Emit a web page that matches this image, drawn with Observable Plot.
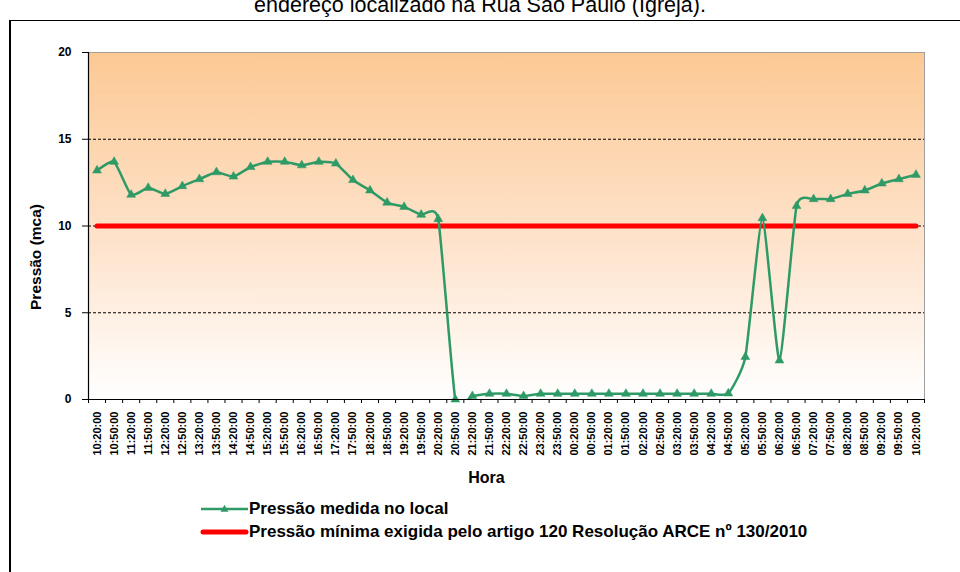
<!DOCTYPE html>
<html>
<head>
<meta charset="utf-8">
<script src="https://cdn.jsdelivr.net/npm/d3@7"></script>
<script src="https://cdn.jsdelivr.net/npm/@observablehq/plot@0.6"></script>
<style>
  html, body { margin: 0; padding: 0; background: #fff; }
  #wrap { position: relative; width: 960px; height: 572px; overflow: hidden; font-family: "Liberation Sans", Arial, sans-serif; }
  #title { position: absolute; left: 0; width: 960px; top: -5px; text-align: center; font-size: 21.5px; line-height: 21.5px; color: #000; white-space: nowrap; }
  #box { position: absolute; left: 9px; top: 20px; width: 1100px; height: 800px; border-left: 2px solid #000; border-top: 1.5px solid #000; }
  #chart { position: absolute; left: 0; top: 0; }
  #legend { position: absolute; left: 200px; top: 497px; font-weight: bold; font-size: 17px; color: #000; }
  .row { display: flex; align-items: center; height: 23px; white-space: nowrap; }
  .row svg { flex: none; }
</style>
</head>
<body>
<div id="wrap">
  <div id="title">endereço localizado na Rua São Paulo (Igreja).</div>
  <div id="box"></div>
  <div id="chart"></div>
  <div id="legend"></div>
</div>
<script>
const times = [
  "10:20:00","10:50:00","11:20:00","11:50:00","12:20:00","12:50:00","13:20:00","13:50:00",
  "14:20:00","14:50:00","15:20:00","15:50:00","16:20:00","16:50:00","17:20:00","17:50:00",
  "18:20:00","18:50:00","19:20:00","19:50:00","20:20:00","20:50:00","21:20:00","21:50:00",
  "22:20:00","22:50:00","23:20:00","23:50:00","00:20:00","00:50:00","01:20:00","01:50:00",
  "02:20:00","02:50:00","03:20:00","03:50:00","04:20:00","04:50:00","05:20:00","05:50:00",
  "06:20:00","06:50:00","07:20:00","07:50:00","08:20:00","08:50:00","09:20:00","09:50:00",
  "10:20:00"
];
const pressure = [
  13.2, 13.7, 11.8, 12.2, 11.85, 12.3, 12.7, 13.1,
  12.85, 13.4, 13.7, 13.7, 13.5, 13.7, 13.6, 12.65,
  12.05, 11.35, 11.1, 10.65, 10.4, 0.0, 0.2, 0.33,
  0.33, 0.2, 0.33, 0.33, 0.33, 0.33, 0.33, 0.33,
  0.33, 0.33, 0.33, 0.33, 0.33, 0.35, 2.45, 10.45,
  2.25, 11.15, 11.55, 11.55, 11.85, 12.05, 12.45, 12.7,
  12.95
];
const minimumPressure = 10;
const yTicks = [0, 5, 10, 15, 20];
const gridLevels = [5, 10, 15];
const seriesNames = ["Pressão medida no local", "Pressão mínima exigida pelo artigo 120 Resolução ARCE nº 130/2010"];
const yLabel = "Pressão (mca)";
const xLabel = "Hora";

const green = "#2e9a66";
const red = "#ff0000";

const idx = d3.range(times.length);
const bounds = d3.range(times.length + 1).map(i => i - 0.5);
const data = idx.map(i => ({i, t: times[i], p: pressure[i], m: minimumPressure}));

const gradient = () => {
  const ns = "http://www.w3.org/2000/svg";
  const defs = document.createElementNS(ns, "defs");
  defs.innerHTML = `<linearGradient id="bgGrad" x1="0" y1="0" x2="0" y2="1">
      <stop offset="0" stop-color="#fcc994"/>
      <stop offset="0.55" stop-color="#fee3cc"/>
      <stop offset="1" stop-color="#ffffff"/>
    </linearGradient>`;
  return defs;
};

const chart = Plot.plot({
  width: 960,
  height: 500,
  marginLeft: 88,
  marginRight: 36,
  marginTop: 52,
  marginBottom: 101,
  style: {fontFamily: "'Liberation Sans', Arial, sans-serif", background: "transparent", color: "#000"},
  x: {type: "linear", domain: [-0.5, times.length - 0.5]},
  y: {domain: [0, 20]},
  marks: [
    gradient,
    Plot.frame({fill: "url(#bgGrad)", stroke: "#a0a0a0"}),
    Plot.ruleY(gridLevels, {stroke: "#000", strokeWidth: 1, strokeDasharray: "3,2"}),
    Plot.line(data, {x: "i", y: "m", stroke: red, strokeWidth: 5, strokeLinecap: "round"}),
    Plot.line(data, {x: "i", y: "p", curve: "cardinal", tension: 0.5, clip: true, stroke: green, strokeWidth: 2.5}),
    Plot.dot(data, {x: "i", y: "p", symbol: "triangle", r: 3.3, fill: green, stroke: green, strokeWidth: 0.5}),
    Plot.ruleX([bounds[0]], {stroke: "#000", strokeWidth: 1.2}),
    Plot.ruleY([yTicks[0]], {stroke: "#000", strokeWidth: 1.2}),
    Plot.axisY(yTicks, {tickSize: 6, tickPadding: 11, fontSize: 12, fontWeight: "bold", label: null}),
    Plot.axisX(bounds, {tickSize: 4, tickFormat: () => "", label: null}),
    Plot.axisX(idx, {tickSize: 0, tickPadding: 12, tickRotate: -90, tickFormat: i => times[i], fontSize: 11, fontWeight: "bold", label: null}),
    Plot.text([yLabel], {frameAnchor: "left", textAnchor: "middle", dx: -52, dy: 31, rotate: -90, fontSize: 15.5, fontWeight: "bold"}),
    Plot.text([xLabel], {frameAnchor: "bottom", dx: -20, dy: 83, fontSize: 16, fontWeight: "bold"})
  ]
});
document.getElementById("chart").appendChild(chart);

const legend = document.getElementById("legend");
const ns = "http://www.w3.org/2000/svg";
seriesNames.forEach((name, k) => {
  const row = document.createElement("div");
  row.className = "row";
  const sw = document.createElementNS(ns, "svg");
  sw.setAttribute("width", 49);
  sw.setAttribute("height", 12);
  if (k === 0) {
    sw.innerHTML = `<line x1="1" x2="48" y1="6" y2="6" stroke="${green}" stroke-width="2.5"/>
      <path d="${d3.symbol(d3.symbolTriangle, 28)()}" transform="translate(24.5,6.5)" fill="${green}"/>`;
  } else {
    sw.innerHTML = `<line x1="3" x2="46" y1="6" y2="6" stroke="${red}" stroke-width="5" stroke-linecap="round"/>`;
  }
  const span = document.createElement("span");
  span.textContent = name;
  row.appendChild(sw);
  row.appendChild(span);
  legend.appendChild(row);
});
</script>
</body>
</html>
